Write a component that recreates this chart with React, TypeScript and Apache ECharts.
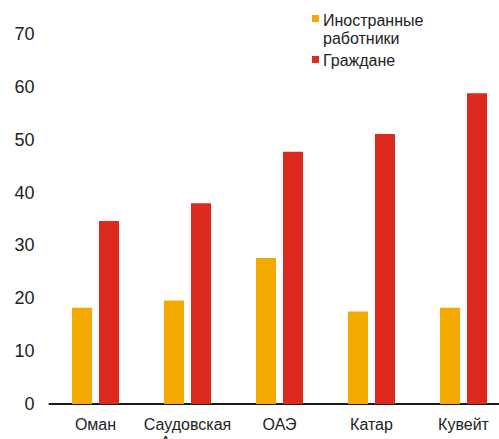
import React, { useEffect, useRef } from "react";
import * as echarts from "echarts";

const categories = ["Оман", "Саудовская\nАравия", "ОАЭ", "Катар", "Кувейт"];
const foreignWorkers = [18.2, 19.6, 27.6, 17.5, 18.2];
const citizens = [34.6, 38.0, 47.7, 51.1, 58.8];
const seriesNames = ["Иностранные работники", "Граждане"];
const legendLabels = ["Иностранные\nработники", "Граждане"];
const colors = ["#F2AA00", "#DD2A1F"];

export default function App() {
  const ref = useRef<HTMLDivElement>(null);
  useEffect(() => {
    document.body.style.margin = "0";
    document.body.style.overflow = "hidden";
    if (!ref.current) return;
    const chart = echarts.init(ref.current, null, { renderer: "svg" });
    const font = "'Liberation Sans', Arial, sans-serif";
    chart.setOption({
      animation: false,
      textStyle: { fontFamily: font },
      grid: {
        left: 49.5,
        top: 34,
        width: 460,
        height: 370,
        containLabel: false,
        outerBoundsMode: "none",
      },
      xAxis: {
        type: "category",
        data: categories,
        axisTick: { show: false },
        axisLine: { show: true, lineStyle: { color: "#1a1a1a", width: 2 } },
        axisLabel: {
          color: "#222",
          fontSize: 16,
          lineHeight: 18,
          margin: 11,
          interval: 0,
          hideOverlap: false,
          fontFamily: font,
        },
      },
      yAxis: {
        type: "value",
        min: 0,
        max: 70,
        interval: 10,
        axisLine: { show: false },
        axisTick: { show: false },
        splitLine: { show: false },
        axisLabel: { color: "#222", fontSize: 18, margin: 15, fontFamily: font },
      },
      series: [
        {
          name: seriesNames[0],
          type: "bar",
          data: foreignWorkers,
          barWidth: 20,
          barGap: "35%",
          itemStyle: { color: colors[0] },
        },
        {
          name: seriesNames[1],
          type: "bar",
          data: citizens,
          barWidth: 20,
          barGap: "35%",
          itemStyle: { color: colors[1] },
        },
      ],
      graphic: [
        { type: "rect", shape: { x: 312, y: 15, width: 7, height: 7 }, style: { fill: colors[0] } },
        {
          type: "text",
          x: 323,
          y: 11,
          style: { text: legendLabels[0], fontSize: 16, lineHeight: 18, fill: "#222", fontFamily: font },
        },
        { type: "rect", shape: { x: 312, y: 56, width: 7, height: 7 }, style: { fill: colors[1] } },
        {
          type: "text",
          x: 323,
          y: 51,
          style: { text: legendLabels[1], fontSize: 16, lineHeight: 18, fill: "#222", fontFamily: font },
        },
      ],
    });
    return () => chart.dispose();
  }, []);
  return (
    <div style={{ width: 499, height: 439, overflow: "hidden", background: "#fff" }}>
      <div ref={ref} style={{ width: 499, height: 439 }} />
    </div>
  );
}
